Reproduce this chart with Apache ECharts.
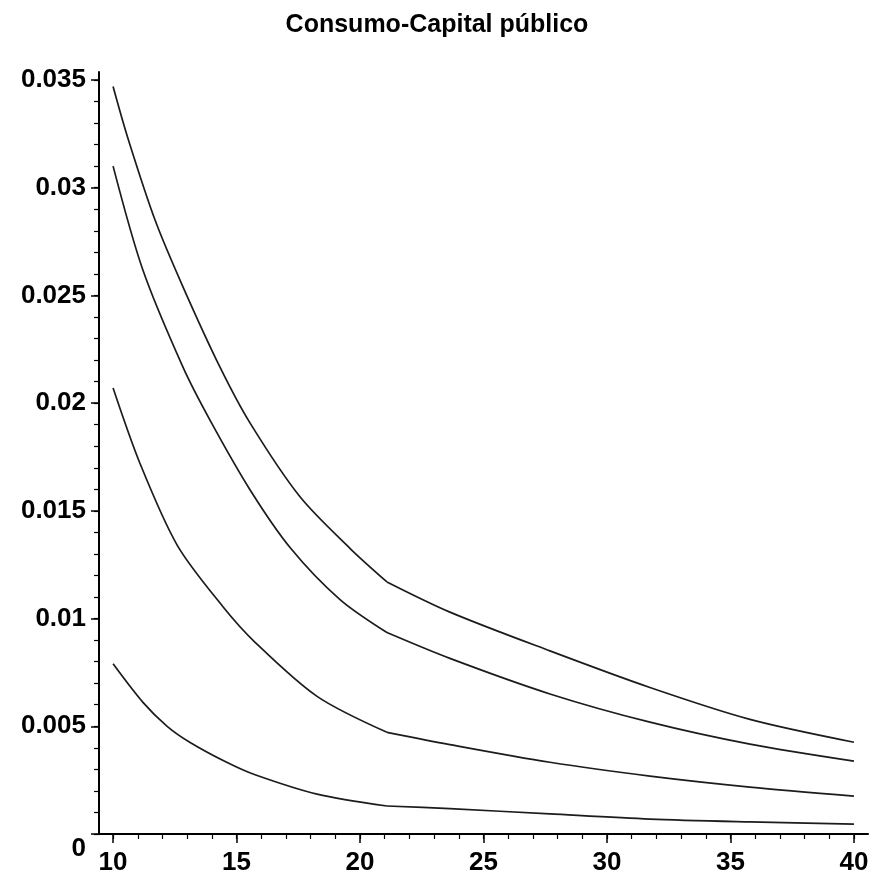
<!DOCTYPE html>
<html>
<head>
<meta charset="utf-8">
<script src="https://cdn.jsdelivr.net/npm/echarts@6/dist/echarts.min.js"></script>
<style>
html,body{margin:0;padding:0;background:#fff;}
#chart{width:874px;height:876px;}
</style>
</head>
<body>
<div id="chart"></div>
<script>
const titleText = 'Consumo-Capital público';

const xTickValues = [10, 15, 20, 25, 30, 35, 40];
const xTickLabels = ['10', '15', '20', '25', '30', '35', '40'];
const yTickValues = [0, 0.005, 0.01, 0.015, 0.02, 0.025, 0.03, 0.035];
const yTickLabels = ['0', '0.005', '0.01', '0.015', '0.02', '0.025', '0.03', '0.035'];

const kinkX = 21.09;

const c1X = [10, 10.6, 11.7, 12.83, 14.33, 15.55, 17.57, 19.6, 21.09, 23.64, 27.69, 31.74, 35.79, 40];
const c1Y = [0.0347, 0.0323, 0.0285, 0.0254, 0.02167, 0.01907, 0.01565, 0.01325, 0.0117, 0.0103, 0.0085, 0.0068, 0.00532, 0.00426];

const c2X = [10, 11.2, 12.83, 13.93, 15.55, 17.2, 19.19, 21.09, 23.64, 27.69, 31.74, 35.79, 40];
const c2Y = [0.0310, 0.0262, 0.02167, 0.0192, 0.01597, 0.01325, 0.01088, 0.00935, 0.00815, 0.0065, 0.00519, 0.00417, 0.00338];

const c3X = [10, 11.09, 12.6, 14.45, 15.75, 18.26, 21.09, 23.64, 27.69, 31.74, 35.79, 40];
const c3Y = [0.0207, 0.0172, 0.0134, 0.01055, 0.0089, 0.00639, 0.00472, 0.00415, 0.00333, 0.00269, 0.00218, 0.00176];

const c4X = [10, 11.21, 12.19, 13.12, 14.6, 15.75, 18.26, 21.09, 23.64, 27.69, 31.74, 35.79, 40];
const c4Y = [0.0079, 0.00611, 0.0050, 0.00425, 0.00333, 0.00275, 0.00185, 0.00130, 0.00118, 0.00093, 0.00069, 0.00056, 0.00046];

const curves = [[c1X, c1Y], [c2X, c2Y], [c3X, c3Y], [c4X, c4Y]];

const xMin = 9.43, xMax = 40.57, yMin = 0, yMax = 0.03537;
const xMinorTicks = [];
for (let v = 10; v <= 40; v++) xMinorTicks.push(v);
const yMinorTicks = [];
for (let i = 0; i <= 35; i++) yMinorTicks.push(i / 1000);

const FONT = '"Liberation Sans", Arial, sans-serif';

const series = [];
curves.forEach(([xs, ys]) => {
  const pts = xs.map((x, i) => [x, ys[i]]);
  const left = pts.filter(p => p[0] <= kinkX);
  const right = pts.filter(p => p[0] >= kinkX);
  [left, right].forEach(seg => {
    series.push({
      type: 'line',
      data: seg,
      smooth: 0.3,
      showSymbol: false,
      silent: true,
      lineStyle: { color: '#1c1c1c', width: 1.7 },
      xAxisIndex: 0,
      yAxisIndex: 0
    });
  });
});

const chart = echarts.init(document.getElementById('chart'), null, { renderer: 'canvas' });
chart.setOption({
  animation: false,
  backgroundColor: '#fff',
  title: {
    text: titleText,
    left: 'center',
    top: 8,
    textStyle: { fontFamily: FONT, fontSize: 25, fontWeight: 'bold', color: '#000' }
  },
  grid: { left: 99, right: 6, top: 72, bottom: 41, containLabel: false },
  xAxis: [
    {
      type: 'value', min: xMin, max: xMax, position: 'bottom',
      axisLine: { show: true, onZero: false, lineStyle: { color: '#000', width: 2 } },
      splitLine: { show: false },
      axisTick: { show: true, customValues: xTickValues, length: 9, lineStyle: { color: '#000', width: 1.5 } },
      axisLabel: {
        customValues: xTickValues, margin: 16,
        formatter: v => xTickLabels[xTickValues.indexOf(v)] ?? '',
        fontFamily: FONT, fontSize: 26, fontWeight: 'bold', color: '#000'
      }
    },
    {
      type: 'value', min: xMin, max: xMax, position: 'bottom',
      axisLine: { show: false },
      splitLine: { show: false },
      axisTick: { show: true, customValues: xMinorTicks, length: 5, lineStyle: { color: '#000', width: 1.2 } },
      axisLabel: { show: false }
    }
  ],
  yAxis: [
    {
      type: 'value', min: yMin, max: yMax, position: 'left',
      axisLine: { show: true, onZero: false, lineStyle: { color: '#000', width: 2 } },
      splitLine: { show: false },
      axisTick: { show: true, customValues: yTickValues, length: 8, lineStyle: { color: '#000', width: 1.5 } },
      axisLabel: {
        customValues: yTickValues, margin: 13,
        formatter: v => {
          const i = yTickValues.findIndex(t => Math.abs(t - v) < 1e-9);
          const s = i >= 0 ? yTickLabels[i] : '';
          return i === 0 ? '{z|' + s + '}' : s;
        },
        rich: { z: { padding: [30, 0, 0, 0], fontFamily: FONT, fontSize: 26, fontWeight: 'bold', color: '#000' } },
        fontFamily: FONT, fontSize: 26, fontWeight: 'bold', color: '#000'
      }
    },
    {
      type: 'value', min: yMin, max: yMax, position: 'left',
      axisLine: { show: false },
      splitLine: { show: false },
      axisTick: { show: true, customValues: yMinorTicks, length: 5, lineStyle: { color: '#000', width: 1.2 } },
      axisLabel: { show: false }
    }
  ],
  series: series
});
</script>
</body>
</html>
